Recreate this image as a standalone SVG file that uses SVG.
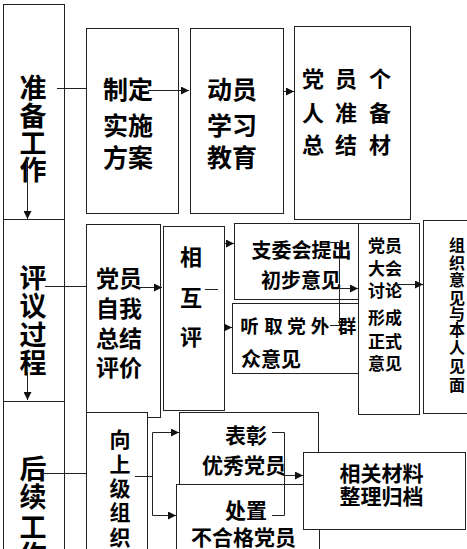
<svg xmlns="http://www.w3.org/2000/svg" width="467" height="549" viewBox="0 0 467 549">
<defs>
<style>
rect{fill:#fff;stroke:#222;stroke-width:1}
text{font-family:"Noto Sans CJK SC","Noto Sans",sans-serif;font-weight:700;fill:#000;text-anchor:middle}
.c line,.c path{stroke:#222;stroke-width:1;fill:none}
.a{marker-end:url(#ah)}
</style>
<marker id="ah" markerUnits="userSpaceOnUse" markerWidth="9" markerHeight="8" refX="8" refY="4" orient="auto">
<path d="M0,0 L8,4 L0,8 Z" fill="#111"/>
</marker>
</defs>
<rect x="0" y="0" width="467" height="549" style="stroke:none"/>
<g id="zhunbei"><rect x="3.5" y="4.5" width="61" height="216"/>
<text font-size="27" x="33"><tspan x="33" y="98">准</tspan><tspan x="33" y="126">备</tspan><tspan x="33" y="153">工</tspan><tspan x="33" y="180">作</tspan></text></g>
<g id="pingyi"><rect x="3.5" y="219.5" width="61" height="182"/>
<text font-size="27"><tspan x="33" y="288">评</tspan><tspan x="33" y="316">议</tspan><tspan x="33" y="345">过</tspan><tspan x="33" y="373">程</tspan></text></g>
<g id="houxu"><rect x="3.5" y="401.5" width="61" height="160"/>
<text font-size="27"><tspan x="33" y="479">后</tspan><tspan x="33" y="507">续</tspan><tspan x="33" y="537">工</tspan><tspan x="33" y="565">作</tspan></text></g>
<g id="zhiding"><rect x="86.5" y="28.5" width="92" height="185"/>
<text font-size="25"><tspan x="128" y="98.5">制定</tspan><tspan x="128" y="134.5">实施</tspan><tspan x="128" y="166.5">方案</tspan></text></g>
<g id="dongyuan"><rect x="190.5" y="28.5" width="93" height="185"/>
<text font-size="25"><tspan x="232" y="98.5">动员</tspan><tspan x="232" y="134.5">学习</tspan><tspan x="232" y="166.5">教育</tspan></text></g>
<g id="gerenzongjie"><rect x="294.5" y="26.5" width="116" height="193"/>
<text font-size="22"><tspan x="313 346 380" y="86.5">党员个</tspan><tspan x="313 346 380" y="120.5">人准备</tspan><tspan x="313 346 380" y="152.5">总结材</tspan></text></g>
<g id="zipingjia"><rect x="86.5" y="224.5" width="74" height="193"/>
<text font-size="23"><tspan x="119" y="287">党员</tspan><tspan x="119" y="317">自我</tspan><tspan x="119" y="347">总结</tspan><tspan x="119" y="376">评价</tspan></text></g>
<g id="shangji"><rect x="86.5" y="412.5" width="61" height="150"/>
<text font-size="21"><tspan x="120" y="447">向</tspan><tspan x="120" y="472">上</tspan><tspan x="120" y="496">级</tspan><tspan x="120" y="520">组</tspan><tspan x="120" y="545">织</tspan></text></g>
<g id="huxiang"><rect x="163.5" y="226.5" width="61" height="184"/>
<text font-size="22"><tspan x="191" y="265">相</tspan><tspan x="191" y="306">互</tspan><tspan x="191" y="345">评</tspan></text></g>
<g id="zhiweihui"><rect x="234.5" y="223.5" width="124" height="76"/>
<text font-size="20"><tspan x="301.5" y="257.5">支委会提出</tspan><tspan x="301" y="287.5">初步意见</tspan></text></g>
<g id="tingqu"><rect x="232.5" y="303.5" width="126" height="70"/>
<text font-size="18.5"><tspan x="249.5 273.5 296.5 320 347" y="332.5">听取党外群</tspan></text>
<text font-size="20" style="text-anchor:start"><tspan x="241" y="366.5">众意见</tspan></text></g>
<g id="dangyuandahui"><rect x="358.5" y="223.5" width="61" height="191"/>
<text font-size="17"><tspan x="385" y="251.5">党员</tspan><tspan x="385" y="274.5">大会</tspan><tspan x="385" y="296.5">讨论</tspan><tspan x="385" y="323.5">形成</tspan><tspan x="385" y="347.5">正式</tspan><tspan x="385" y="369.5">意见</tspan></text></g>
<g id="jianmian"><rect x="423.5" y="220.5" width="60" height="193"/>
<text font-size="16"><tspan x="457" y="251">组</tspan><tspan x="457" y="268.5">织</tspan><tspan x="457" y="286">意</tspan><tspan x="457" y="303.5">见</tspan><tspan x="457" y="319.5">与</tspan><tspan x="457" y="336">本</tspan><tspan x="457" y="352.5">人</tspan><tspan x="457" y="371.5">见</tspan><tspan x="457" y="391">面</tspan></text></g>
<g id="biaozhang"><rect x="179.5" y="412.5" width="139" height="72"/>
<text font-size="21"><tspan x="246" y="443">表彰</tspan><tspan x="244" y="473">优秀党员</tspan></text></g>
<g id="chuzhi"><rect x="176.5" y="484.5" width="143" height="80"/>
<text font-size="21"><tspan x="246" y="517.5">处置</tspan><tspan x="243.5" y="545">不合格党员</tspan></text></g>
<g id="guidang"><rect x="303.5" y="452.5" width="162" height="77"/>
<text font-size="21"><tspan x="381.5" y="481">相关材料</tspan><tspan x="381.5" y="504">整理归档</tspan></text></g>
<g id="connectors" class="c">
<line x1="57" y1="88.5" x2="86" y2="88.5"/>
<line class="a" x1="148" y1="90.5" x2="189" y2="90.5"/>
<line class="a" x1="283" y1="91.5" x2="294" y2="91.5"/>
<line class="a" x1="27.5" y1="157" x2="27.5" y2="219"/>
<line class="a" x1="27.5" y1="372" x2="27.5" y2="400"/>
<line x1="45" y1="286.5" x2="86" y2="286.5"/>
<line class="a" x1="140" y1="287.5" x2="162" y2="287.5"/>
<line x1="205" y1="289.5" x2="218" y2="289.5"/>
<line class="a" x1="224" y1="243.5" x2="234" y2="243.5"/>
<line class="a" x1="224" y1="327.5" x2="232" y2="327.5"/>
<path d="M330,242.5 H339.5 V325.5 H330"/>
<line class="a" x1="339.5" y1="288.5" x2="358" y2="288.5"/>
<line class="a" x1="393" y1="284.5" x2="423" y2="284.5"/>
<line x1="40" y1="473.5" x2="86" y2="473.5"/>
<path d="M135,476.5 H152.5 M152.5,432.5 V515.5"/>
<line class="a" x1="152.5" y1="432.5" x2="179" y2="432.5"/>
<line class="a" x1="152.5" y1="515.5" x2="176" y2="515.5"/>
<path d="M272,432.5 H284.5 V515.5 H272"/>
<line class="a" x1="284.5" y1="475.5" x2="303" y2="475.5"/>
</g>
</svg>
